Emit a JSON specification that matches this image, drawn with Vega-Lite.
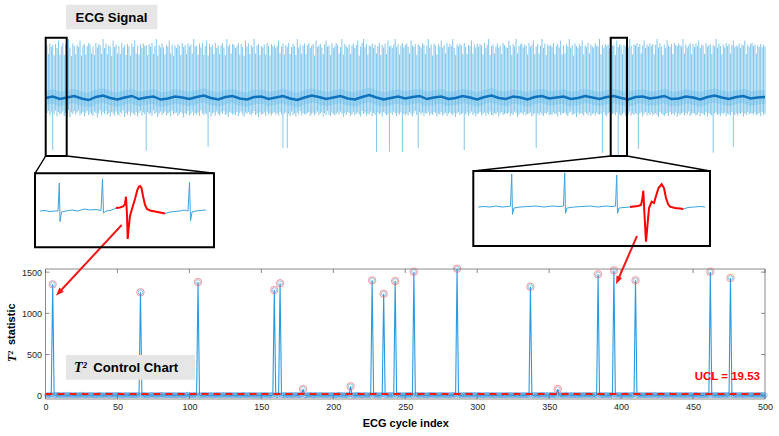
{
"$schema":"https://vega.github.io/schema/vega-lite/v6.json",
"width":719.5,"height":399,
"autosize":{"type":"none"},
"padding":{"left":45.5,"top":0,"right":14,"bottom":37},
"background":"white",
"config":{"view":{"stroke":null},"font":"Liberation Sans"},
"datasets":{
"cyc":[
{"x":1,"y":5.8,"h":2.10,"l":-0.60},{"x":2,"y":8.4,"h":1.76,"l":-0.52},{"x":3,"y":3.9,"h":2.18,"l":-0.70},{"x":4,"y":10.6,"h":2.04,"l":-0.58},{"x":5,"y":1352,"h":2.12,"l":-2.08},{"x":6,"y":7.1,"h":1.70,"l":-0.64},{"x":7,"y":4.6,"h":2.16,"l":-0.50},{"x":8,"y":12.3,"h":2.00,"l":-0.74},{"x":9,"y":6.5,"h":2.30,"l":-0.56},{"x":10,"y":9.2,"h":1.74,"l":-0.66},
{"x":11,"y":3.4,"h":2.06,"l":-0.62},{"x":12,"y":7.7,"h":2.20,"l":-0.54},{"x":13,"y":11.8,"h":1.72,"l":-0.72},{"x":14,"y":5.2,"h":2.14,"l":-0.60},{"x":15,"y":8.9,"h":1.78,"l":-0.68},{"x":16,"y":4.3,"h":2.36,"l":-0.48},{"x":17,"y":13.5,"h":2.02,"l":-0.76},{"x":18,"y":6.8,"h":1.68,"l":-0.58},{"x":19,"y":2.9,"h":2.18,"l":-0.64},{"x":20,"y":9.7,"h":2.08,"l":-0.52},
{"x":21,"y":7.3,"h":1.76,"l":-0.66},{"x":22,"y":5.1,"h":2.12,"l":-0.58},{"x":23,"y":9.9,"h":2.04,"l":-0.50},{"x":24,"y":4.4,"h":2.30,"l":-0.70},{"x":25,"y":14.2,"h":1.70,"l":-0.62},{"x":26,"y":6.0,"h":2.10,"l":-0.56},{"x":27,"y":8.1,"h":2.16,"l":-0.74},{"x":28,"y":3.6,"h":1.74,"l":-0.60},{"x":29,"y":10.8,"h":2.08,"l":-0.52},{"x":30,"y":5.5,"h":2.20,"l":-0.68},
{"x":31,"y":8.6,"h":2.14,"l":-0.58},{"x":32,"y":12.1,"h":1.78,"l":-0.64},{"x":33,"y":4.9,"h":2.06,"l":-0.72},{"x":34,"y":7.0,"h":1.72,"l":-0.54},{"x":35,"y":3.2,"h":2.20,"l":-0.60},{"x":36,"y":9.4,"h":2.02,"l":-0.78},{"x":37,"y":6.3,"h":2.16,"l":-0.62},{"x":38,"y":11.1,"h":2.10,"l":-0.50},{"x":39,"y":5.7,"h":1.76,"l":-0.70},{"x":40,"y":8.0,"h":2.36,"l":-0.56},
{"x":41,"y":4.2,"h":2.00,"l":-0.64},{"x":42,"y":6.9,"h":2.18,"l":-0.52},{"x":43,"y":10.3,"h":1.74,"l":-0.68},{"x":44,"y":7.8,"h":2.10,"l":-0.60},{"x":45,"y":5.0,"h":2.06,"l":-0.74},{"x":46,"y":13.0,"h":1.68,"l":-0.56},{"x":47,"y":3.8,"h":2.30,"l":-0.62},{"x":48,"y":8.7,"h":2.04,"l":-0.70},{"x":49,"y":6.1,"h":2.14,"l":-0.54},{"x":50,"y":9.5,"h":1.78,"l":-0.66},
{"x":51,"y":11.4,"h":2.08,"l":-0.70},{"x":52,"y":5.4,"h":1.76,"l":-0.58},{"x":53,"y":7.6,"h":2.20,"l":-0.62},{"x":54,"y":3.1,"h":2.02,"l":-0.50},{"x":55,"y":9.0,"h":2.12,"l":-0.76},{"x":56,"y":6.6,"h":1.72,"l":-0.60},{"x":57,"y":12.7,"h":2.16,"l":-0.66},{"x":58,"y":4.7,"h":2.06,"l":-0.54},{"x":59,"y":8.2,"h":1.70,"l":-0.72},{"x":60,"y":5.9,"h":2.18,"l":-0.58},
{"x":61,"y":7.2,"h":2.04,"l":-0.62},{"x":62,"y":9.8,"h":2.30,"l":-0.68},{"x":63,"y":4.0,"h":1.78,"l":-0.56},{"x":64,"y":10.9,"h":2.10,"l":-0.74},{"x":65,"y":6.4,"h":1.74,"l":-0.60},{"x":66,"y":1255,"h":2.14,"l":-0.52},{"x":67,"y":8.5,"h":2.00,"l":-0.70},{"x":68,"y":3.7,"h":2.18,"l":-0.58},{"x":69,"y":11.6,"h":2.08,"l":-0.64},{"x":70,"y":5.3,"h":2.12,"l":-2.11},
{"x":71,"y":4.5,"h":1.72,"l":-0.56},{"x":72,"y":8.8,"h":2.16,"l":-0.66},{"x":73,"y":6.7,"h":2.06,"l":-0.60},{"x":74,"y":13.3,"h":2.20,"l":-0.72},{"x":75,"y":5.6,"h":1.76,"l":-0.50},{"x":76,"y":7.9,"h":2.08,"l":-0.64},{"x":77,"y":3.3,"h":2.36,"l":-0.58},{"x":78,"y":10.1,"h":1.70,"l":-0.76},{"x":79,"y":6.2,"h":2.12,"l":-0.62},{"x":80,"y":9.3,"h":2.02,"l":-0.54},
{"x":81,"y":12.4,"h":2.18,"l":-0.68},{"x":82,"y":5.0,"h":2.02,"l":-0.60},{"x":83,"y":8.3,"h":1.74,"l":-0.54},{"x":84,"y":4.6,"h":2.12,"l":-0.70},{"x":85,"y":7.5,"h":2.06,"l":-0.62},{"x":86,"y":10.4,"h":2.30,"l":-0.58},{"x":87,"y":3.9,"h":1.78,"l":-0.74},{"x":88,"y":6.8,"h":2.14,"l":-0.52},{"x":89,"y":9.6,"h":1.68,"l":-0.66},{"x":90,"y":5.8,"h":2.10,"l":-0.60},
{"x":91,"y":7.0,"h":2.00,"l":-0.58},{"x":92,"y":4.1,"h":2.16,"l":-0.72},{"x":93,"y":11.9,"h":2.08,"l":-0.64},{"x":94,"y":6.3,"h":1.72,"l":-0.56},{"x":95,"y":8.6,"h":2.20,"l":-0.62},{"x":96,"y":3.4,"h":2.04,"l":-0.78},{"x":97,"y":9.9,"h":2.12,"l":-0.60},{"x":98,"y":5.5,"h":1.76,"l":-0.66},{"x":99,"y":13.8,"h":2.18,"l":-0.52},{"x":100,"y":7.4,"h":2.06,"l":-0.70},
{"x":101,"y":5.2,"h":2.14,"l":-0.64},{"x":102,"y":9.1,"h":1.78,"l":-0.54},{"x":103,"y":6.0,"h":2.36,"l":-0.70},{"x":104,"y":10.7,"h":2.06,"l":-0.60},{"x":105,"y":4.4,"h":2.10,"l":-0.66},{"x":106,"y":1380,"h":1.74,"l":-0.58},{"x":107,"y":8.0,"h":2.18,"l":-0.72},{"x":108,"y":3.6,"h":2.02,"l":-0.50},{"x":109,"y":7.3,"h":2.20,"l":-0.62},{"x":110,"y":11.3,"h":1.72,"l":-0.68},
{"x":111,"y":6.5,"h":2.08,"l":-0.60},{"x":112,"y":8.9,"h":2.30,"l":-0.66},{"x":113,"y":4.8,"h":1.70,"l":-1.95},{"x":114,"y":12.0,"h":2.16,"l":-0.56},{"x":115,"y":5.7,"h":2.04,"l":-0.74},{"x":116,"y":7.7,"h":2.12,"l":-0.62},{"x":117,"y":3.0,"h":1.76,"l":-0.58},{"x":118,"y":9.4,"h":2.20,"l":-0.70},{"x":119,"y":6.9,"h":2.00,"l":-0.54},{"x":120,"y":10.2,"h":2.10,"l":-0.64},
{"x":121,"y":4.3,"h":1.76,"l":-0.70},{"x":122,"y":7.8,"h":2.10,"l":-0.58},{"x":123,"y":11.0,"h":2.18,"l":-0.64},{"x":124,"y":5.9,"h":2.02,"l":-0.52},{"x":125,"y":8.4,"h":1.72,"l":-0.68},{"x":126,"y":3.8,"h":2.36,"l":-0.62},{"x":127,"y":13.1,"h":2.06,"l":-0.76},{"x":128,"y":6.2,"h":2.14,"l":-0.56},{"x":129,"y":9.7,"h":1.78,"l":-0.60},{"x":130,"y":4.9,"h":2.16,"l":-0.66},
{"x":131,"y":8.1,"h":2.12,"l":-0.62},{"x":132,"y":5.4,"h":2.00,"l":-0.68},{"x":133,"y":10.0,"h":2.08,"l":-0.56},{"x":134,"y":7.1,"h":2.20,"l":-0.72},{"x":135,"y":3.5,"h":1.74,"l":-0.60},{"x":136,"y":9.2,"h":2.16,"l":-0.54},{"x":137,"y":6.6,"h":2.04,"l":-0.66},{"x":138,"y":12.5,"h":1.70,"l":-0.74},{"x":139,"y":4.6,"h":2.30,"l":-0.58},{"x":140,"y":7.9,"h":2.06,"l":-0.64},
{"x":141,"y":6.1,"h":2.18,"l":-0.56},{"x":142,"y":11.5,"h":1.76,"l":-0.64},{"x":143,"y":4.2,"h":2.12,"l":-0.70},{"x":144,"y":8.7,"h":2.04,"l":-0.60},{"x":145,"y":5.8,"h":2.36,"l":-0.52},{"x":146,"y":10.6,"h":1.78,"l":-0.68},{"x":147,"y":3.3,"h":2.10,"l":-0.62},{"x":148,"y":7.5,"h":2.16,"l":-0.76},{"x":149,"y":9.0,"h":1.72,"l":-0.58},{"x":150,"y":5.1,"h":2.08,"l":-0.66},
{"x":151,"y":9.6,"h":2.02,"l":-0.64},{"x":152,"y":6.3,"h":2.14,"l":-0.58},{"x":153,"y":12.9,"h":1.74,"l":-0.72},{"x":154,"y":4.7,"h":2.20,"l":-0.54},{"x":155,"y":7.2,"h":2.08,"l":-0.66},{"x":156,"y":8.5,"h":1.70,"l":-0.60},{"x":157,"y":3.9,"h":2.16,"l":-0.70},{"x":158,"y":10.8,"h":2.06,"l":-0.62},{"x":159,"y":1283,"h":2.12,"l":-0.56},{"x":160,"y":6.7,"h":2.00,"l":-0.68},
{"x":161,"y":5.0,"h":2.10,"l":-0.60},{"x":162,"y":9.3,"h":2.30,"l":-0.70},{"x":163,"y":1365,"h":1.78,"l":-0.56},{"x":164,"y":7.6,"h":2.06,"l":-0.66},{"x":165,"y":4.4,"h":2.18,"l":-2.00},{"x":166,"y":11.7,"h":1.74,"l":-0.62},{"x":167,"y":6.0,"h":2.12,"l":-0.58},{"x":168,"y":8.2,"h":2.04,"l":-2.00},{"x":169,"y":3.7,"h":2.20,"l":-0.64},{"x":170,"y":10.3,"h":1.76,"l":-0.72},
{"x":171,"y":7.4,"h":2.04,"l":-0.54},{"x":172,"y":4.9,"h":2.16,"l":-0.68},{"x":173,"y":13.6,"h":2.08,"l":-0.62},{"x":174,"y":6.5,"h":1.72,"l":-0.74},{"x":175,"y":9.1,"h":2.36,"l":-0.58},{"x":176,"y":5.3,"h":2.02,"l":-0.66},{"x":177,"y":8.0,"h":2.14,"l":-0.52},{"x":178,"y":10.9,"h":1.78,"l":-0.70},{"x":179,"y":81,"h":2.10,"l":-0.60},{"x":180,"y":6.8,"h":2.18,"l":-0.64},
{"x":181,"y":3.6,"h":1.74,"l":-0.66},{"x":182,"y":8.8,"h":2.12,"l":-0.60},{"x":183,"y":5.7,"h":2.20,"l":-0.56},{"x":184,"y":11.2,"h":2.00,"l":-0.72},{"x":185,"y":7.0,"h":2.08,"l":-0.64},{"x":186,"y":4.5,"h":2.16,"l":-0.58},{"x":187,"y":9.8,"h":1.70,"l":-0.70},{"x":188,"y":6.4,"h":2.30,"l":-0.62},{"x":189,"y":12.2,"h":2.04,"l":-0.54},{"x":190,"y":5.6,"h":2.10,"l":-0.68},
{"x":191,"y":8.3,"h":2.16,"l":-0.62},{"x":192,"y":10.5,"h":2.02,"l":-0.56},{"x":193,"y":4.0,"h":1.76,"l":-0.74},{"x":194,"y":7.7,"h":2.14,"l":-0.60},{"x":195,"y":6.1,"h":2.30,"l":-0.68},{"x":196,"y":9.4,"h":2.06,"l":-0.52},{"x":197,"y":3.2,"h":2.10,"l":-0.66},{"x":198,"y":11.8,"h":1.72,"l":-0.72},{"x":199,"y":5.4,"h":2.18,"l":-0.58},{"x":200,"y":8.6,"h":2.00,"l":-0.64},
{"x":201,"y":6.9,"h":2.06,"l":-0.70},{"x":202,"y":4.8,"h":2.20,"l":-0.64},{"x":203,"y":10.1,"h":2.12,"l":-0.58},{"x":204,"y":7.3,"h":1.78,"l":-0.66},{"x":205,"y":13.4,"h":2.04,"l":-0.54},{"x":206,"y":5.5,"h":2.36,"l":-0.62},{"x":207,"y":8.9,"h":1.74,"l":-0.76},{"x":208,"y":3.8,"h":2.16,"l":-0.60},{"x":209,"y":9.5,"h":2.08,"l":-0.68},{"x":210,"y":6.2,"h":2.02,"l":-0.56},
{"x":211,"y":11.0,"h":2.14,"l":-0.60},{"x":212,"y":114,"h":1.76,"l":-0.72},{"x":213,"y":7.8,"h":2.10,"l":-0.64},{"x":214,"y":5.2,"h":2.18,"l":-0.56},{"x":215,"y":9.7,"h":2.00,"l":-0.70},{"x":216,"y":4.1,"h":2.12,"l":-0.62},{"x":217,"y":12.6,"h":2.30,"l":-0.58},{"x":218,"y":6.6,"h":1.70,"l":-0.66},{"x":219,"y":8.4,"h":2.06,"l":-0.74},{"x":220,"y":3.5,"h":2.20,"l":-0.52},
{"x":221,"y":7.6,"h":2.36,"l":-0.64},{"x":222,"y":10.4,"h":2.04,"l":-0.58},{"x":223,"y":5.9,"h":2.16,"l":-0.70},{"x":224,"y":8.1,"h":1.74,"l":-0.62},{"x":225,"y":4.6,"h":2.10,"l":-0.66},{"x":226,"y":9.2,"h":2.06,"l":-0.54},{"x":227,"y":1401,"h":2.18,"l":-0.72},{"x":228,"y":6.3,"h":2.00,"l":-0.60},{"x":229,"y":11.4,"h":2.14,"l":-0.68},{"x":230,"y":5.0,"h":1.78,"l":-2.15},
{"x":231,"y":8.7,"h":2.08,"l":-0.58},{"x":232,"y":3.9,"h":2.20,"l":-0.66},{"x":233,"y":6.7,"h":1.72,"l":-0.60},{"x":234,"y":12.3,"h":2.12,"l":-0.74},{"x":235,"y":1238,"h":2.02,"l":-0.56},{"x":236,"y":7.2,"h":2.18,"l":-0.62},{"x":237,"y":4.3,"h":1.76,"l":-0.70},{"x":238,"y":9.9,"h":2.30,"l":-0.64},{"x":239,"y":5.8,"h":2.06,"l":-2.15},{"x":240,"y":10.7,"h":2.10,"l":-0.60},
{"x":241,"y":6.0,"h":2.00,"l":-0.68},{"x":242,"y":8.2,"h":2.14,"l":-0.54},{"x":243,"y":1392,"h":2.36,"l":-0.62},{"x":244,"y":4.7,"h":2.04,"l":-0.72},{"x":245,"y":7.9,"h":2.16,"l":-0.60},{"x":246,"y":11.6,"h":1.74,"l":-0.66},{"x":247,"y":5.3,"h":2.10,"l":-0.58},{"x":248,"y":9.3,"h":2.20,"l":-2.15},{"x":249,"y":3.4,"h":2.02,"l":-0.64},{"x":250,"y":6.8,"h":2.12,"l":-0.70},
{"x":251,"y":10.2,"h":2.18,"l":-0.62},{"x":252,"y":5.6,"h":2.06,"l":-0.70},{"x":253,"y":13.0,"h":1.78,"l":-0.56},{"x":254,"y":7.1,"h":2.30,"l":-0.64},{"x":255,"y":4.0,"h":2.10,"l":-0.74},{"x":256,"y":1505,"h":2.04,"l":-0.60},{"x":257,"y":8.5,"h":2.16,"l":-0.52},{"x":258,"y":6.4,"h":1.72,"l":-0.68},{"x":259,"y":9.6,"h":2.14,"l":-2.00},{"x":260,"y":4.9,"h":2.08,"l":-0.58},
{"x":261,"y":7.5,"h":2.02,"l":-0.66},{"x":262,"y":11.9,"h":2.20,"l":-0.58},{"x":263,"y":5.1,"h":2.12,"l":-0.72},{"x":264,"y":8.0,"h":1.76,"l":-0.60},{"x":265,"y":3.7,"h":2.08,"l":-0.64},{"x":266,"y":10.0,"h":2.36,"l":-0.54},{"x":267,"y":6.2,"h":2.00,"l":-0.70},{"x":268,"y":9.0,"h":2.14,"l":-0.62},{"x":269,"y":12.8,"h":1.70,"l":-0.68},{"x":270,"y":4.5,"h":2.18,"l":-0.56},
{"x":271,"y":8.8,"h":2.10,"l":-0.60},{"x":272,"y":6.5,"h":1.74,"l":-0.74},{"x":273,"y":9.4,"h":2.16,"l":-0.62},{"x":274,"y":4.2,"h":2.06,"l":-0.66},{"x":275,"y":11.3,"h":2.30,"l":-0.56},{"x":276,"y":7.7,"h":2.02,"l":-0.70},{"x":277,"y":5.5,"h":2.12,"l":-0.64},{"x":278,"y":10.6,"h":1.78,"l":-0.58},{"x":279,"y":3.1,"h":2.20,"l":-0.72},{"x":280,"y":8.3,"h":2.04,"l":-0.62},
{"x":281,"y":6.1,"h":2.16,"l":-0.58},{"x":282,"y":9.8,"h":2.08,"l":-0.64},{"x":283,"y":4.6,"h":2.36,"l":-0.70},{"x":284,"y":12.4,"h":2.00,"l":-0.60},{"x":285,"y":7.0,"h":1.72,"l":-0.76},{"x":286,"y":1542,"h":2.14,"l":-0.62},{"x":287,"y":5.8,"h":2.06,"l":-0.56},{"x":288,"y":8.9,"h":2.18,"l":-0.68},{"x":289,"y":3.6,"h":2.10,"l":-0.64},{"x":290,"y":10.5,"h":1.76,"l":-0.60},
{"x":291,"y":7.4,"h":2.20,"l":-2.08},{"x":292,"y":5.2,"h":2.04,"l":-0.66},{"x":293,"y":11.1,"h":1.76,"l":-0.58},{"x":294,"y":6.9,"h":2.12,"l":-0.72},{"x":295,"y":9.3,"h":2.08,"l":-0.62},{"x":296,"y":4.4,"h":2.30,"l":-0.54},{"x":297,"y":13.2,"h":1.78,"l":-0.68},{"x":298,"y":7.8,"h":2.14,"l":-0.60},{"x":299,"y":5.0,"h":2.02,"l":-0.74},{"x":300,"y":8.6,"h":2.18,"l":-0.64},
{"x":301,"y":10.9,"h":2.06,"l":-0.62},{"x":302,"y":6.3,"h":2.16,"l":-0.56},{"x":303,"y":8.1,"h":2.10,"l":-0.70},{"x":304,"y":3.9,"h":1.74,"l":-0.64},{"x":305,"y":9.5,"h":2.20,"l":-0.58},{"x":306,"y":5.7,"h":2.00,"l":-0.72},{"x":307,"y":12.0,"h":2.12,"l":-0.60},{"x":308,"y":7.2,"h":2.36,"l":-0.66},{"x":309,"y":4.8,"h":1.72,"l":-0.54},{"x":310,"y":10.3,"h":2.08,"l":-0.68},
{"x":311,"y":6.6,"h":2.14,"l":-0.70},{"x":312,"y":8.4,"h":1.78,"l":-0.60},{"x":313,"y":4.1,"h":2.06,"l":-0.66},{"x":314,"y":11.7,"h":2.18,"l":-0.58},{"x":315,"y":7.6,"h":2.02,"l":-0.74},{"x":316,"y":5.3,"h":2.10,"l":-0.62},{"x":317,"y":9.1,"h":1.76,"l":-0.56},{"x":318,"y":3.3,"h":2.20,"l":-0.68},{"x":319,"y":10.8,"h":2.12,"l":-0.64},{"x":320,"y":6.0,"h":2.04,"l":-0.60},
{"x":321,"y":8.9,"h":2.00,"l":-0.64},{"x":322,"y":5.5,"h":2.30,"l":-0.58},{"x":323,"y":12.6,"h":2.10,"l":-0.72},{"x":324,"y":7.0,"h":1.72,"l":-0.62},{"x":325,"y":4.7,"h":2.16,"l":-0.68},{"x":326,"y":9.7,"h":2.06,"l":-0.54},{"x":327,"y":6.4,"h":2.36,"l":-0.60},{"x":328,"y":11.2,"h":1.78,"l":-0.76},{"x":329,"y":3.8,"h":2.08,"l":-0.66},{"x":330,"y":8.0,"h":2.14,"l":-0.58},
{"x":331,"y":5.9,"h":2.18,"l":-0.60},{"x":332,"y":10.1,"h":2.02,"l":-0.68},{"x":333,"y":7.3,"h":2.14,"l":-0.56},{"x":334,"y":4.5,"h":2.08,"l":-0.70},{"x":335,"y":9.2,"h":1.74,"l":-0.64},{"x":336,"y":6.7,"h":2.20,"l":-0.62},{"x":337,"y":1323,"h":2.04,"l":-0.58},{"x":338,"y":8.5,"h":2.12,"l":-0.74},{"x":339,"y":3.5,"h":2.30,"l":-0.66},{"x":340,"y":11.5,"h":1.76,"l":-0.60},
{"x":341,"y":7.1,"h":2.06,"l":-2.00},{"x":342,"y":4.2,"h":2.16,"l":-0.62},{"x":343,"y":9.6,"h":1.78,"l":-0.70},{"x":344,"y":6.1,"h":2.10,"l":-0.58},{"x":345,"y":13.5,"h":2.36,"l":-0.66},{"x":346,"y":5.4,"h":2.00,"l":-0.72},{"x":347,"y":8.2,"h":2.18,"l":-0.60},{"x":348,"y":10.4,"h":1.72,"l":-0.64},{"x":349,"y":4.9,"h":2.14,"l":-0.56},{"x":350,"y":7.7,"h":2.08,"l":-0.68},
{"x":351,"y":9.0,"h":2.12,"l":-0.64},{"x":352,"y":6.8,"h":2.04,"l":-0.70},{"x":353,"y":11.8,"h":2.20,"l":-0.58},{"x":354,"y":3.7,"h":1.76,"l":-0.66},{"x":355,"y":8.6,"h":2.08,"l":-0.62},{"x":356,"y":81,"h":2.16,"l":-0.74},{"x":357,"y":5.6,"h":2.02,"l":-0.56},{"x":358,"y":10.0,"h":2.30,"l":-0.68},{"x":359,"y":7.4,"h":1.74,"l":-0.60},{"x":360,"y":4.3,"h":2.10,"l":-0.62},
{"x":361,"y":8.1,"h":1.78,"l":-0.58},{"x":362,"y":12.2,"h":2.14,"l":-0.66},{"x":363,"y":5.1,"h":2.06,"l":-0.72},{"x":364,"y":7.9,"h":2.36,"l":-0.60},{"x":365,"y":9.9,"h":2.02,"l":-0.54},{"x":366,"y":4.6,"h":2.12,"l":-0.68},{"x":367,"y":6.5,"h":1.70,"l":-0.64},{"x":368,"y":11.0,"h":2.18,"l":-0.62},{"x":369,"y":3.2,"h":2.08,"l":-0.76},{"x":370,"y":8.8,"h":2.00,"l":-0.58},
{"x":371,"y":6.2,"h":2.16,"l":-0.66},{"x":372,"y":9.4,"h":2.08,"l":-0.60},{"x":373,"y":4.0,"h":2.30,"l":-0.64},{"x":374,"y":10.7,"h":1.74,"l":-0.70},{"x":375,"y":7.5,"h":2.10,"l":-0.56},{"x":376,"y":5.8,"h":2.04,"l":-0.62},{"x":377,"y":12.9,"h":2.20,"l":-0.68},{"x":378,"y":6.9,"h":1.78,"l":-0.58},{"x":379,"y":8.3,"h":2.14,"l":-0.72},{"x":380,"y":4.8,"h":2.06,"l":-0.64},
{"x":381,"y":10.6,"h":2.02,"l":-0.60},{"x":382,"y":7.0,"h":2.18,"l":-0.70},{"x":383,"y":5.3,"h":2.10,"l":-0.58},{"x":384,"y":1474,"h":2.06,"l":-0.64},{"x":385,"y":9.1,"h":2.36,"l":-0.66},{"x":386,"y":6.3,"h":1.76,"l":-0.62},{"x":387,"y":8.7,"h":2.12,"l":-2.20},{"x":388,"y":3.6,"h":2.00,"l":-0.56},{"x":389,"y":11.3,"h":2.16,"l":-0.68},{"x":390,"y":5.9,"h":2.08,"l":-0.74},
{"x":391,"y":7.8,"h":2.14,"l":-0.62},{"x":392,"y":4.4,"h":2.00,"l":-0.56},{"x":393,"y":9.8,"h":2.20,"l":-0.70},{"x":394,"y":6.6,"h":2.08,"l":-0.64},{"x":395,"y":1522,"h":2.12,"l":-0.60},{"x":396,"y":8.0,"h":1.72,"l":-0.68},{"x":397,"y":5.0,"h":2.30,"l":-0.58},{"x":398,"y":12.5,"h":2.04,"l":-2.28},{"x":399,"y":7.3,"h":2.16,"l":-0.66},{"x":400,"y":4.1,"h":2.10,"l":-0.72},
{"x":401,"y":9.3,"h":1.76,"l":-0.64},{"x":402,"y":6.0,"h":2.12,"l":-0.58},{"x":403,"y":11.6,"h":2.06,"l":-0.72},{"x":404,"y":8.4,"h":2.18,"l":-0.60},{"x":405,"y":3.9,"h":2.02,"l":-0.66},{"x":406,"y":10.2,"h":2.36,"l":-0.54},{"x":407,"y":5.7,"h":2.08,"l":-0.70},{"x":408,"y":7.7,"h":1.74,"l":-0.62},{"x":409,"y":12.1,"h":2.14,"l":-0.68},{"x":410,"y":1401,"h":2.10,"l":-0.60},
{"x":411,"y":6.4,"h":2.20,"l":-0.66},{"x":412,"y":8.9,"h":2.04,"l":-2.04},{"x":413,"y":4.7,"h":2.16,"l":-0.62},{"x":414,"y":10.0,"h":1.78,"l":-0.58},{"x":415,"y":7.2,"h":2.10,"l":-0.74},{"x":416,"y":5.4,"h":2.30,"l":-0.64},{"x":417,"y":9.5,"h":2.00,"l":-0.56},{"x":418,"y":3.4,"h":2.14,"l":-0.70},{"x":419,"y":11.9,"h":2.06,"l":-0.60},{"x":420,"y":6.8,"h":2.18,"l":-0.68},
{"x":421,"y":8.2,"h":2.08,"l":-0.58},{"x":422,"y":5.1,"h":2.16,"l":-0.70},{"x":423,"y":13.0,"h":1.74,"l":-0.64},{"x":424,"y":7.6,"h":2.12,"l":-0.60},{"x":425,"y":4.5,"h":2.36,"l":-0.68},{"x":426,"y":9.7,"h":2.02,"l":-0.76},{"x":427,"y":6.1,"h":2.18,"l":-0.56},{"x":428,"y":10.8,"h":2.06,"l":-0.62},{"x":429,"y":8.5,"h":1.72,"l":-0.66},{"x":430,"y":3.7,"h":2.14,"l":-0.72},
{"x":431,"y":10.4,"h":2.00,"l":-0.64},{"x":432,"y":7.1,"h":2.30,"l":-0.60},{"x":433,"y":5.8,"h":2.10,"l":-0.72},{"x":434,"y":9.0,"h":2.04,"l":-0.56},{"x":435,"y":12.7,"h":2.16,"l":-0.66},{"x":436,"y":4.2,"h":1.76,"l":-0.62},{"x":437,"y":8.1,"h":2.20,"l":-0.70},{"x":438,"y":6.6,"h":2.12,"l":-0.58},{"x":439,"y":11.4,"h":2.08,"l":-0.74},{"x":440,"y":5.2,"h":2.18,"l":-0.62},
{"x":441,"y":7.9,"h":2.12,"l":-0.68},{"x":442,"y":9.6,"h":2.06,"l":-0.62},{"x":443,"y":3.5,"h":2.36,"l":-0.58},{"x":444,"y":8.7,"h":1.78,"l":-0.70},{"x":445,"y":6.2,"h":2.14,"l":-0.60},{"x":446,"y":11.1,"h":2.02,"l":-0.66},{"x":447,"y":5.5,"h":2.10,"l":-0.54},{"x":448,"y":7.4,"h":2.20,"l":-0.72},{"x":449,"y":10.1,"h":1.74,"l":-0.64},{"x":450,"y":4.6,"h":2.16,"l":-0.60},
{"x":451,"y":6.9,"h":2.04,"l":-0.62},{"x":452,"y":12.3,"h":2.18,"l":-0.70},{"x":453,"y":8.0,"h":2.08,"l":-0.66},{"x":454,"y":5.0,"h":2.30,"l":-0.58},{"x":455,"y":9.2,"h":2.00,"l":-0.72},{"x":456,"y":7.0,"h":2.14,"l":-0.60},{"x":457,"y":4.1,"h":2.10,"l":-0.64},{"x":458,"y":10.9,"h":1.76,"l":-0.68},{"x":459,"y":6.3,"h":2.20,"l":-0.56},{"x":460,"y":8.8,"h":2.06,"l":-0.74},
{"x":461,"y":5.6,"h":2.10,"l":-0.60},{"x":462,"y":1505,"h":2.16,"l":-0.66},{"x":463,"y":9.9,"h":1.76,"l":-0.70},{"x":464,"y":7.5,"h":2.12,"l":-2.19},{"x":465,"y":4.4,"h":2.06,"l":-0.62},{"x":466,"y":11.7,"h":2.36,"l":-0.58},{"x":467,"y":6.7,"h":2.02,"l":-0.68},{"x":468,"y":8.4,"h":2.18,"l":-0.64},{"x":469,"y":3.3,"h":2.08,"l":-0.72},{"x":470,"y":10.5,"h":1.74,"l":-0.60},
{"x":471,"y":7.2,"h":2.14,"l":-0.64},{"x":472,"y":9.4,"h":2.02,"l":-0.58},{"x":473,"y":5.3,"h":2.20,"l":-0.72},{"x":474,"y":12.0,"h":2.08,"l":-0.62},{"x":475,"y":6.0,"h":2.16,"l":-0.66},{"x":476,"y":1429,"h":1.78,"l":-0.70},{"x":477,"y":8.6,"h":2.12,"l":-0.56},{"x":478,"y":4.8,"h":2.30,"l":-1.95},{"x":479,"y":10.3,"h":2.04,"l":-0.68},{"x":480,"y":7.7,"h":2.10,"l":-0.62},
{"x":481,"y":5.9,"h":2.06,"l":-0.70},{"x":482,"y":8.3,"h":2.18,"l":-0.60},{"x":483,"y":11.2,"h":2.00,"l":-0.64},{"x":484,"y":6.5,"h":2.14,"l":-0.58},{"x":485,"y":9.0,"h":2.10,"l":-0.74},{"x":486,"y":4.0,"h":2.30,"l":-0.62},{"x":487,"y":7.8,"h":1.76,"l":-0.68},{"x":488,"y":13.1,"h":2.12,"l":-0.56},{"x":489,"y":5.4,"h":2.04,"l":-0.66},{"x":490,"y":8.9,"h":2.16,"l":-0.60},
{"x":491,"y":6.8,"h":2.20,"l":-0.62},{"x":492,"y":10.0,"h":2.08,"l":-0.66},{"x":493,"y":4.5,"h":2.14,"l":-0.58},{"x":494,"y":7.6,"h":1.78,"l":-0.70},{"x":495,"y":9.7,"h":2.10,"l":-0.64},{"x":496,"y":5.1,"h":2.04,"l":-0.60},{"x":497,"y":11.5,"h":2.16,"l":-0.72},{"x":498,"y":7.0,"h":2.02,"l":-0.56},{"x":499,"y":8.2,"h":2.12,"l":-0.68},{"x":500,"y":6.1,"h":2.06,"l":-0.62}
],
"base":[
{"x":0,"y":0.00},{"x":5,"y":0.06},{"x":10,"y":-0.04},{"x":15,"y":0.02},{"x":20,"y":0.08},{"x":25,"y":-0.02},{"x":30,"y":-0.08},{"x":35,"y":0.04},{"x":40,"y":0.10},{"x":45,"y":0.00},
{"x":50,"y":-0.06},{"x":55,"y":0.02},{"x":60,"y":0.08},{"x":65,"y":-0.04},{"x":70,"y":0.02},{"x":75,"y":0.06},{"x":80,"y":-0.06},{"x":85,"y":-0.02},{"x":90,"y":0.06},{"x":95,"y":0.02},
{"x":100,"y":-0.04},{"x":105,"y":0.04},{"x":110,"y":0.10},{"x":115,"y":0.00},{"x":120,"y":-0.06},{"x":125,"y":0.04},{"x":130,"y":0.08},{"x":135,"y":-0.02},{"x":140,"y":-0.06},{"x":145,"y":0.04},
{"x":150,"y":0.06},{"x":155,"y":-0.04},{"x":160,"y":0.02},{"x":165,"y":0.08},{"x":170,"y":-0.02},{"x":175,"y":-0.08},{"x":180,"y":0.02},{"x":185,"y":0.10},{"x":190,"y":0.04},{"x":195,"y":-0.04},
{"x":200,"y":0.02},{"x":205,"y":0.08},{"x":210,"y":-0.02},{"x":215,"y":-0.06},{"x":220,"y":0.04},{"x":225,"y":0.12},{"x":230,"y":0.02},{"x":235,"y":-0.06},{"x":240,"y":0.00},{"x":245,"y":0.06},
{"x":250,"y":-0.02},{"x":255,"y":0.04},{"x":260,"y":0.08},{"x":265,"y":-0.04},{"x":270,"y":0.02},{"x":275,"y":0.06},{"x":280,"y":-0.04},{"x":285,"y":0.00},{"x":290,"y":0.08},{"x":295,"y":0.02},
{"x":300,"y":-0.06},{"x":305,"y":0.04},{"x":310,"y":0.10},{"x":315,"y":0.00},{"x":320,"y":-0.04},{"x":325,"y":0.06},{"x":330,"y":0.02},{"x":335,"y":-0.06},{"x":340,"y":0.04},{"x":345,"y":0.08},
{"x":350,"y":-0.02},{"x":355,"y":0.02},{"x":360,"y":0.06},{"x":365,"y":-0.04},{"x":370,"y":0.00},{"x":375,"y":0.08},{"x":380,"y":0.02},{"x":385,"y":-0.04},{"x":390,"y":0.04},{"x":395,"y":0.08},
{"x":400,"y":0.00},{"x":405,"y":-0.06},{"x":410,"y":0.04},{"x":415,"y":0.06},{"x":420,"y":-0.02},{"x":425,"y":0.02},{"x":430,"y":0.08},{"x":435,"y":-0.04},{"x":440,"y":-0.02},{"x":445,"y":0.06},
{"x":450,"y":0.02},{"x":455,"y":-0.06},{"x":460,"y":0.04},{"x":465,"y":0.10},{"x":470,"y":0.02},{"x":475,"y":-0.04},{"x":480,"y":0.04},{"x":485,"y":0.08},{"x":490,"y":-0.02},{"x":495,"y":0.02},{"x":500,"y":0.04}
],
"ins":[
{"s":"L1","c":"b","x":-3.82,"y":-4.52},{"s":"L1","c":"b","x":-0.35,"y":-4.50},{"s":"L1","c":"b","x":3.13,"y":-4.54},{"s":"L1","c":"b","x":6.60,"y":-4.52},{"s":"L1","c":"b","x":8.69,"y":-4.52},{"s":"L1","c":"b","x":9.59,"y":-3.40},{"s":"L1","c":"b","x":10.08,"y":-4.948},{"s":"L1","c":"b","x":11.12,"y":-4.56},{"s":"L1","c":"b","x":14.25,"y":-4.52},{"s":"L1","c":"b","x":18.42,"y":-4.48},{"s":"L1","c":"b","x":22.59,"y":-4.52},{"s":"L1","c":"b","x":26.75,"y":-4.44},{"s":"L1","c":"b","x":30.92,"y":-4.48},{"s":"L1","c":"b","x":35.09,"y":-4.46},{"s":"L1","c":"b","x":38.57,"y":-4.50},{"s":"L1","c":"b","x":39.61,"y":-3.24},{"s":"L1","c":"b","x":40.31,"y":-4.60},{"s":"L1","c":"b","x":42.04,"y":-4.52},{"s":"L1","c":"b","x":44.82,"y":-4.50},{"s":"L1","c":"b","x":47.60,"y":-4.44},{"s":"L1","c":"b","x":48.99,"y":-4.40},
{"s":"L2","c":"r","x":48.99,"y":-4.40},{"s":"L2","c":"r","x":51.77,"y":-4.38},{"s":"L2","c":"r","x":53.86,"y":-4.34},{"s":"L2","c":"r","x":55.24,"y":-4.24},{"s":"L2","c":"r","x":55.94,"y":-3.948},{"s":"L2","c":"r","x":56.64,"y":-4.68},{"s":"L2","c":"r","x":57.12,"y":-5.64},{"s":"L2","c":"r","x":57.82,"y":-5.20},{"s":"L2","c":"r","x":58.72,"y":-4.72},{"s":"L2","c":"r","x":59.90,"y":-4.48},{"s":"L2","c":"r","x":61.15,"y":-4.24},{"s":"L2","c":"r","x":62.20,"y":-4.04},{"s":"L2","c":"r","x":63.79,"y":-3.68},{"s":"L2","c":"r","x":64.98,"y":-3.54},{"s":"L2","c":"r","x":65.67,"y":-3.52},{"s":"L2","c":"r","x":66.71,"y":-3.60},{"s":"L2","c":"r","x":67.76,"y":-3.92},{"s":"L2","c":"r","x":69.15,"y":-4.28},{"s":"L2","c":"r","x":70.54,"y":-4.44},{"s":"L2","c":"r","x":72.62,"y":-4.50},{"s":"L2","c":"r","x":76.10,"y":-4.54},{"s":"L2","c":"r","x":79.57,"y":-4.58},{"s":"L2","c":"r","x":83.05,"y":-4.62},
{"s":"L3","c":"b","x":83.05,"y":-4.62},{"s":"L3","c":"b","x":86.52,"y":-4.56},{"s":"L3","c":"b","x":90.00,"y":-4.54},{"s":"L3","c":"b","x":93.47,"y":-4.52},{"s":"L3","c":"b","x":96.25,"y":-4.48},{"s":"L3","c":"b","x":99.03,"y":-4.52},{"s":"L3","c":"b","x":100.07,"y":-3.372},{"s":"L3","c":"b","x":100.77,"y":-4.92},{"s":"L3","c":"b","x":101.81,"y":-4.56},{"s":"L3","c":"b","x":104.59,"y":-4.52},{"s":"L3","c":"b","x":107.37,"y":-4.50},{"s":"L3","c":"b","x":111.54,"y":-4.48},
{"s":"R1","c":"b","x":300.76,"y":-4.36},{"s":"R1","c":"b","x":304.73,"y":-4.34},{"s":"R1","c":"b","x":308.90,"y":-4.36},{"s":"R1","c":"b","x":313.07,"y":-4.32},{"s":"R1","c":"b","x":317.24,"y":-4.36},{"s":"R1","c":"b","x":321.41,"y":-4.34},{"s":"R1","c":"b","x":323.14,"y":-4.32},{"s":"R1","c":"b","x":323.98,"y":-3.04},{"s":"R1","c":"b","x":324.53,"y":-4.652},{"s":"R1","c":"b","x":325.58,"y":-4.40},{"s":"R1","c":"b","x":329.75,"y":-4.36},{"s":"R1","c":"b","x":335.31,"y":-4.34},{"s":"R1","c":"b","x":340.87,"y":-4.32},{"s":"R1","c":"b","x":346.43,"y":-4.36},{"s":"R1","c":"b","x":351.99,"y":-4.32},{"s":"R1","c":"b","x":357.55,"y":-4.34},{"s":"R1","c":"b","x":359.98,"y":-4.32},{"s":"R1","c":"b","x":360.81,"y":-2.988},{"s":"R1","c":"b","x":361.37,"y":-4.612},{"s":"R1","c":"b","x":362.41,"y":-4.40},{"s":"R1","c":"b","x":367.28,"y":-4.36},{"s":"R1","c":"b","x":372.84,"y":-4.34},{"s":"R1","c":"b","x":378.40,"y":-4.32},{"s":"R1","c":"b","x":383.96,"y":-4.36},{"s":"R1","c":"b","x":389.52,"y":-4.32},{"s":"R1","c":"b","x":393.69,"y":-4.34},{"s":"R1","c":"b","x":396.11,"y":-4.32},{"s":"R1","c":"b","x":396.95,"y":-3.08},{"s":"R1","c":"b","x":397.50,"y":-4.612},{"s":"R1","c":"b","x":398.55,"y":-4.40},{"s":"R1","c":"b","x":402.02,"y":-4.38},{"s":"R1","c":"b","x":406.19,"y":-4.36},
{"s":"R2","c":"r","x":406.19,"y":-4.36},{"s":"R2","c":"r","x":408.97,"y":-4.34},{"s":"R2","c":"r","x":411.75,"y":-4.32},{"s":"R2","c":"r","x":413.83,"y":-4.28},{"s":"R2","c":"r","x":414.87,"y":-4.00},{"s":"R2","c":"r","x":415.43,"y":-3.708},{"s":"R2","c":"r","x":416.26,"y":-4.68},{"s":"R2","c":"r","x":417.31,"y":-5.748},{"s":"R2","c":"r","x":418.35,"y":-5.08},{"s":"R2","c":"r","x":419.39,"y":-4.40},{"s":"R2","c":"r","x":421.27,"y":-4.148},{"s":"R2","c":"r","x":422.87,"y":-4.20},{"s":"R2","c":"r","x":424.26,"y":-3.92},{"s":"R2","c":"r","x":425.99,"y":-3.60},{"s":"R2","c":"r","x":428.22,"y":-3.452},{"s":"R2","c":"r","x":429.81,"y":-3.60},{"s":"R2","c":"r","x":431.20,"y":-4.00},{"s":"R2","c":"r","x":432.59,"y":-4.24},{"s":"R2","c":"r","x":433.98,"y":-4.348},{"s":"R2","c":"r","x":437.46,"y":-4.40},{"s":"R2","c":"r","x":440.93,"y":-4.42},{"s":"R2","c":"r","x":443.23,"y":-4.44},
{"s":"R3","c":"b","x":443.23,"y":-4.44},{"s":"R3","c":"b","x":446.49,"y":-4.38},{"s":"R3","c":"b","x":450.66,"y":-4.36},{"s":"R3","c":"b","x":454.83,"y":-4.34},{"s":"R3","c":"b","x":458.31,"y":-4.36}
],
"box":[
{"x":0.14,"x2":14.73,"y":2.412,"y2":-2.32},
{"x":392.78,"x2":404.11,"y":2.412,"y2":-2.32},
{"x":-7.30,"x2":117.10,"y":-3.012,"y2":-5.972},
{"x":297.29,"x2":461.78,"y":-2.92,"y2":-5.92}
],
"con":[
{"x":0.14,"y":-2.32,"x2":-7.30,"y2":-3.012},
{"x":14.73,"y":-2.32,"x2":117.10,"y2":-3.012},
{"x":392.78,"y":-2.32,"x2":297.29,"y2":-2.92},
{"x":404.11,"y":-2.32,"x2":461.78,"y2":-2.92}
],
"lb1":[{"x":14.25,"x2":77.7,"y":3.732,"y2":2.748}],
"lt1":[{"x":45.87,"y":3.22,"s":"ECG Signal"}],
"frm":[{"x":0,"x2":500,"y":-40,"y2":1538}],
"tkv":[
{"x":0,"y":-40,"y2":8.6},{"x":50,"y":-40,"y2":8.6},{"x":100,"y":-40,"y2":8.6},{"x":150,"y":-40,"y2":8.6},{"x":200,"y":-40,"y2":8.6},{"x":250,"y":-40,"y2":8.6},{"x":300,"y":-40,"y2":8.6},{"x":350,"y":-40,"y2":8.6},{"x":400,"y":-40,"y2":8.6},{"x":450,"y":-40,"y2":8.6},{"x":500,"y":-40,"y2":8.6},
{"x":0,"y":1538,"y2":1489.4},{"x":50,"y":1538,"y2":1489.4},{"x":100,"y":1538,"y2":1489.4},{"x":150,"y":1538,"y2":1489.4},{"x":200,"y":1538,"y2":1489.4},{"x":250,"y":1538,"y2":1489.4},{"x":300,"y":1538,"y2":1489.4},{"x":350,"y":1538,"y2":1489.4},{"x":400,"y":1538,"y2":1489.4},{"x":450,"y":1538,"y2":1489.4},{"x":500,"y":1538,"y2":1489.4}
],
"tkh":[
{"x":0,"x2":2.78,"y":0},{"x":0,"x2":2.78,"y":500},{"x":0,"x2":2.78,"y":1000},{"x":0,"x2":2.78,"y":1500},
{"x":500,"x2":497.22,"y":0},{"x":500,"x2":497.22,"y":500},{"x":500,"x2":497.22,"y":1000},{"x":500,"x2":497.22,"y":1500}
],
"ucl":[{"x":0,"x2":500,"y":19.53}],
"ut":[{"x":496.5,"y":230,"s":"UCL = 19.53"}],
"lb2":[{"x":14.25,"x2":103.9,"y":494.1,"y2":194.2}],
"lt2a":[{"x":19.8,"y":338.7,"s":"T²"}],
"lt2b":[{"x":33.2,"y":338.7,"s":"Control Chart"}],
"yt1":[{"x":-23.07,"y":409,"s":"T²"}],
"yt2":[{"x":-23.07,"y":615.5,"s":"statistic"}],
"arr":[
{"x":52.95,"y":2072,"x2":9.66,"y2":1259},
{"x":411.05,"y":1939,"x2":397.85,"y2":1408}
],
"arrh":[
{"x":7.30,"y":1214,"a":222.9},
{"x":396.46,"y":1352,"a":203.5}
]
},
"encoding":{
 "x":{"field":"x","type":"quantitative","scale":{"domain":[0,500],"nice":false,"zero":false},
  "axis":{"values":[0,50,100,150,200,250,300,350,400,450,500],"format":"d","ticks":false,"domain":false,"grid":false,"labelFontSize":9,"labelColor":"#262626","labelPadding":3,"labelFlush":false,"labelFont":"Liberation Sans","title":"ECG cycle index","titleFontSize":11,"titleFontWeight":"bold","titleColor":"#000000","titlePadding":6,"titleFont":"Liberation Sans"}}
},
"layer":[
{"encoding":{
  "y":{"field":"y","type":"quantitative","scale":{"domain":[-40,4804],"nice":false,"zero":false},
   "axis":{"values":[0,500,1000,1500],"format":"d","ticks":false,"domain":false,"grid":false,"labelFontSize":9,"labelColor":"#262626","labelPadding":4,"labelFont":"Liberation Sans","title":null}}},
 "layer":[
{"data":{"name":"frm"},"mark":{"type":"rect","filled":false,"color":"#5a5a5a","strokeWidth":0.7},
 "encoding":{"x2":{"field":"x2"},"y2":{"field":"y2"}}},
{"data":{"name":"tkv"},"mark":{"type":"rule","color":"#5a5a5a","strokeWidth":0.7},
 "encoding":{"y2":{"field":"y2"}}},
{"data":{"name":"tkh"},"mark":{"type":"rule","color":"#5a5a5a","strokeWidth":0.7},
 "encoding":{"x2":{"field":"x2"}}},
{"data":{"name":"cyc"},"mark":{"type":"line","color":"#2a9ae0","strokeWidth":1.1}},
{"data":{"name":"cyc"},"mark":{"type":"point","filled":false,"color":"#2c8bd2","size":22,"strokeWidth":0.7}},
{"data":{"name":"ucl"},"mark":{"type":"rule","color":"#ff1a0a","strokeWidth":2,"strokeDash":[7,5]},
 "encoding":{"x2":{"field":"x2"}}},
{"data":{"name":"cyc"},"transform":[{"filter":"datum.y > 19.53"}],"mark":{"type":"point","filled":false,"color":"#ef5a5a","size":55,"strokeWidth":0.9}},
{"data":{"name":"ut"},"mark":{"type":"text","color":"#ff0000","font":"Liberation Sans","fontWeight":"bold","fontSize":11.5,"align":"right","baseline":"middle"},
 "encoding":{"text":{"field":"s"}}},
{"data":{"name":"lb2"},"mark":{"type":"rect","color":"#e6e6e6"},
 "encoding":{"x2":{"field":"x2"},"y2":{"field":"y2"}}},
{"data":{"name":"lt2a"},"mark":{"type":"text","color":"#000000","font":"Liberation Serif","fontStyle":"italic","fontWeight":"bold","fontSize":14,"align":"left","baseline":"middle"},
 "encoding":{"text":{"field":"s"}}},
{"data":{"name":"lt2b"},"mark":{"type":"text","color":"#000000","font":"Liberation Sans","fontWeight":"bold","fontSize":13.2,"align":"left","baseline":"middle"},
 "encoding":{"text":{"field":"s"}}},
{"data":{"name":"yt1"},"mark":{"type":"text","color":"#000000","font":"Liberation Serif","fontStyle":"italic","fontWeight":"bold","fontSize":12,"align":"left","baseline":"middle","angle":270},
 "encoding":{"text":{"field":"s"}}},
{"data":{"name":"yt2"},"mark":{"type":"text","color":"#000000","font":"Liberation Sans","fontWeight":"bold","fontSize":11,"align":"left","baseline":"middle","angle":270},
 "encoding":{"text":{"field":"s"}}},
{"data":{"name":"arr"},"mark":{"type":"rule","color":"#f01818","strokeWidth":2},
 "encoding":{"x2":{"field":"x2"},"y2":{"field":"y2"}}},
{"data":{"name":"arrh"},"mark":{"type":"point","filled":true,"color":"#f01818","shape":"M0,0L-0.55,1.5L0.55,1.5Z","size":121,"opacity":1},
 "encoding":{"angle":{"field":"a","type":"quantitative","scale":null}}}
 ]},
{"encoding":{
  "y":{"field":"y","type":"quantitative","scale":{"domain":[-12.04,3.92],"nice":false,"zero":false},"axis":null}},
 "layer":[
{"data":{"name":"base"},"mark":{"type":"line","color":"#6cc0ec","strokeWidth":14,"opacity":0.35}},
{"data":{"name":"cyc"},"mark":{"type":"rule","color":"#55b3e6","strokeWidth":0.75},
 "encoding":{"y":{"field":"h","type":"quantitative","scale":{"domain":[-12.04,3.92],"nice":false,"zero":false},"axis":null},"y2":{"field":"l"}}},
{"data":{"name":"base"},"mark":{"type":"line","color":"#0f72bd","strokeWidth":2.4}},
{"data":{"name":"box"},"mark":{"type":"rect","filled":false,"color":"#000000","strokeWidth":2},
 "encoding":{"x2":{"field":"x2"},"y2":{"field":"y2"}}},
{"data":{"name":"con"},"mark":{"type":"rule","color":"#000000","strokeWidth":1.4},
 "encoding":{"x2":{"field":"x2"},"y2":{"field":"y2"}}},
{"data":{"name":"ins"},"transform":[{"filter":"datum.c == 'b'"}],"mark":{"type":"line","color":"#3aa5df","strokeWidth":1},
 "encoding":{"detail":{"field":"s"}}},
{"data":{"name":"ins"},"transform":[{"filter":"datum.c == 'r'"}],"mark":{"type":"line","color":"#ff0000","strokeWidth":2},
 "encoding":{"detail":{"field":"s"}}},
{"data":{"name":"lb1"},"mark":{"type":"rect","color":"#e6e6e6"},
 "encoding":{"x2":{"field":"x2"},"y2":{"field":"y2"}}},
{"data":{"name":"lt1"},"mark":{"type":"text","color":"#000000","font":"Liberation Sans","fontWeight":"bold","fontSize":13.2,"align":"center","baseline":"middle"},
 "encoding":{"text":{"field":"s"}}}
 ]}
],
"resolve":{"scale":{"y":"independent"}}
}
